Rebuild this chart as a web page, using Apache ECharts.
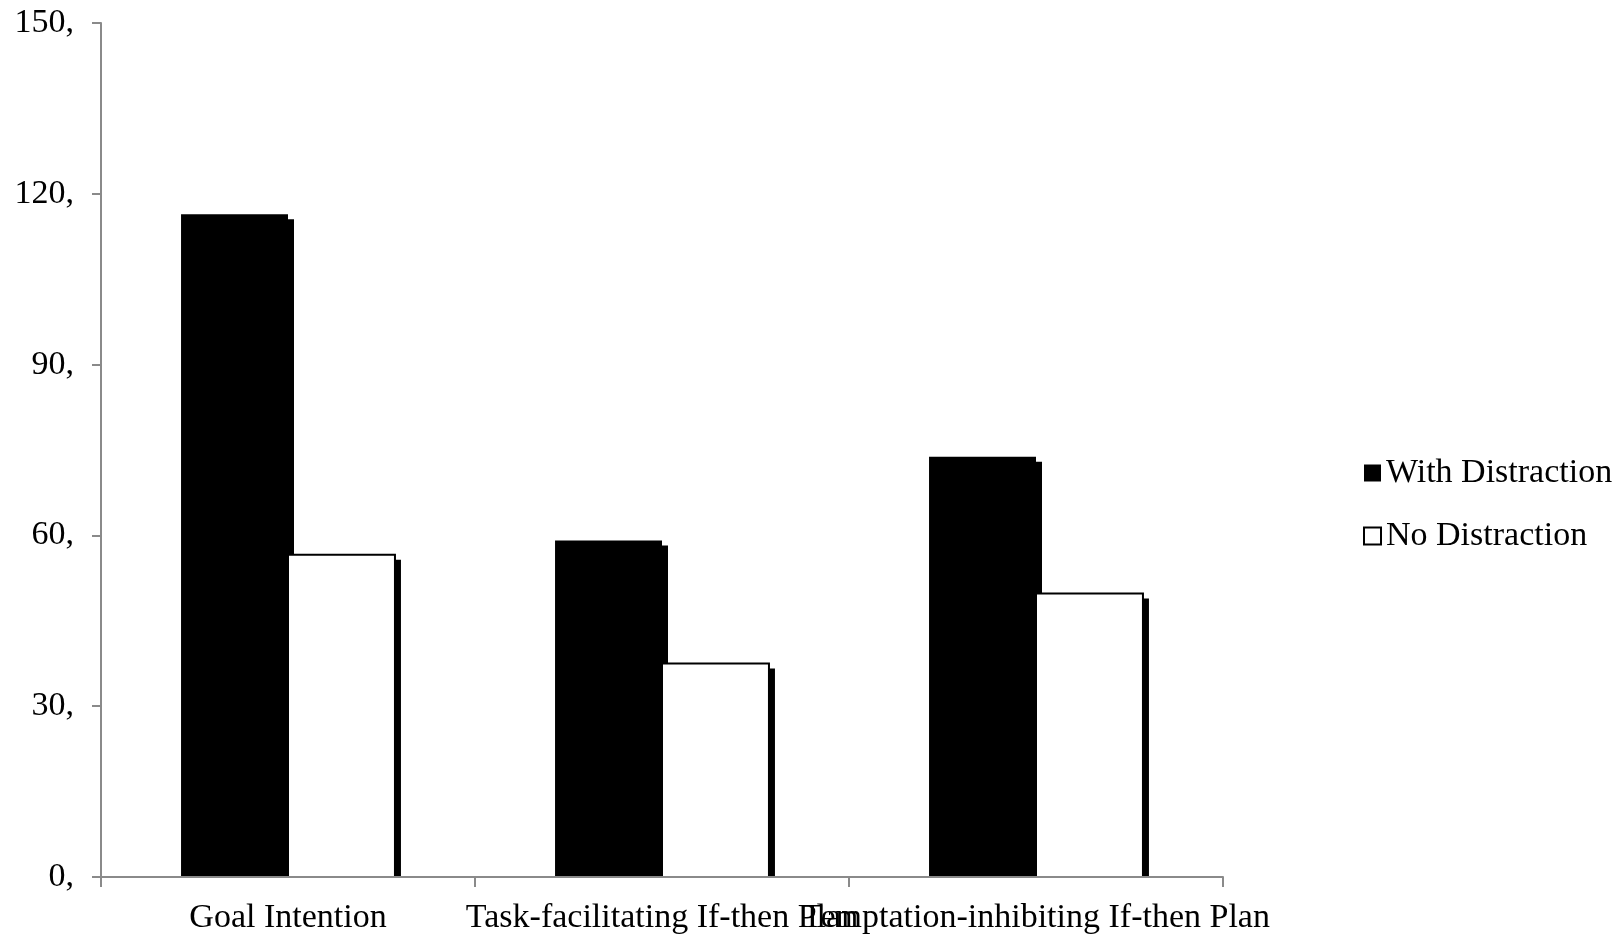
<!DOCTYPE html>
<html>
<head>
<meta charset="utf-8">
<script src="https://cdn.jsdelivr.net/npm/echarts@6/dist/echarts.min.js"></script>
<style>
  html, body { margin: 0; padding: 0; background: #fff; }
  #chart { width: 1621px; height: 937px; }
</style>
</head>
<body>
<div id="chart"></div>
<script>
// Categories and the two condition series
const categories = ['Goal Intention', 'Task-facilitating If-then Plan', 'Temptation-inhibiting If-then Plan'];
const withDistraction = [116.4, 59.1, 73.8];
const noDistraction = [56.6, 37.5, 49.8];
const yTickLabels = ['0,', '30,', '60,', '90,', '120,', '150,'];
const seriesNames = ['With Distraction', 'No Distraction'];

const FONT = '"Liberation Serif", "Times New Roman", serif';
const AXIS_GREY = '#8a8a8a';
const BAR_RATIO = 0.286;      // each bar's share of the category band
const SHADOW_DX = 6, SHADOW_DY = 5;

// Bars with a hard drop shadow that stops at the baseline.
// side = -1 draws left of the category centre, +1 draws right of it.
function makeBarRenderer(side, fill, stroke) {
  return function (params, api) {
    const cat = api.value(0);
    const val = api.value(1);
    const base = api.coord([cat, 0]);
    const top = api.coord([cat, val]);
    const band = api.size([1, 0])[0];
    const w = band * BAR_RATIO;
    const x = side < 0 ? base[0] - w : base[0];
    const h = base[1] - top[1];
    const children = [
      {
        type: 'rect',
        shape: { x: x + SHADOW_DX, y: top[1] + SHADOW_DY, width: w, height: Math.max(0, h - SHADOW_DY) },
        style: { fill: '#000' }
      },
      {
        type: 'rect',
        shape: { x: x, y: top[1], width: w, height: h },
        style: stroke ? { fill: fill, stroke: stroke, lineWidth: 2 } : { fill: fill }
      }
    ];
    return { type: 'group', children: children };
  };
}

const chart = echarts.init(document.getElementById('chart'), null, { renderer: 'canvas' });

chart.setOption({
  animation: false,
  backgroundColor: '#fff',
  grid: { left: 101, right: 398, top: 23, bottom: 60, containLabel: false },
  legend: {
    orient: 'vertical',
    left: 1358,
    top: 451,
    itemGap: 29,
    itemWidth: 17,
    itemHeight: 17,
    icon: 'rect',
    textStyle: { fontFamily: FONT, fontSize: 34, color: '#000' },
    data: [
      { name: seriesNames[0], itemStyle: { color: '#000', borderWidth: 0 } },
      { name: seriesNames[1], itemStyle: { color: '#fff', borderColor: '#000', borderWidth: 2 } }
    ]
  },
  xAxis: {
    type: 'category',
    data: categories,
    z: 10,
    axisLine: { lineStyle: { color: AXIS_GREY, width: 2 } },
    axisTick: { show: true, alignWithLabel: false, length: 10, lineStyle: { color: AXIS_GREY, width: 2 } },
    axisLabel: {
      interval: 0,
      margin: 24,
      fontFamily: FONT,
      fontSize: 34,
      color: '#000',
      hideOverlap: false
    },
    splitLine: { show: false }
  },
  yAxis: {
    type: 'value',
    min: 0,
    max: 150,
    interval: 30,
    z: 10,
    axisLine: { show: true, lineStyle: { color: AXIS_GREY, width: 2 } },
    axisTick: { show: true, length: 9, lineStyle: { color: AXIS_GREY, width: 2 } },
    axisLabel: {
      margin: 27,
      fontFamily: FONT,
      fontSize: 34,
      color: '#000',
      formatter: (v) => yTickLabels[Math.round(v / 30)]
    },
    splitLine: { show: false }
  },
  series: [
    {
      name: seriesNames[0],
      type: 'custom',
      renderItem: makeBarRenderer(-1, '#000', null),
      itemStyle: { color: '#000' },
      encode: { x: 0, y: 1 },
      data: categories.map((c, i) => [i, withDistraction[i]])
    },
    {
      name: seriesNames[1],
      type: 'custom',
      renderItem: makeBarRenderer(1, '#fff', '#000'),
      itemStyle: { color: '#fff', borderColor: '#000', borderWidth: 2 },
      encode: { x: 0, y: 1 },
      data: categories.map((c, i) => [i, noDistraction[i]])
    }
  ]
});
</script>
</body>
</html>
